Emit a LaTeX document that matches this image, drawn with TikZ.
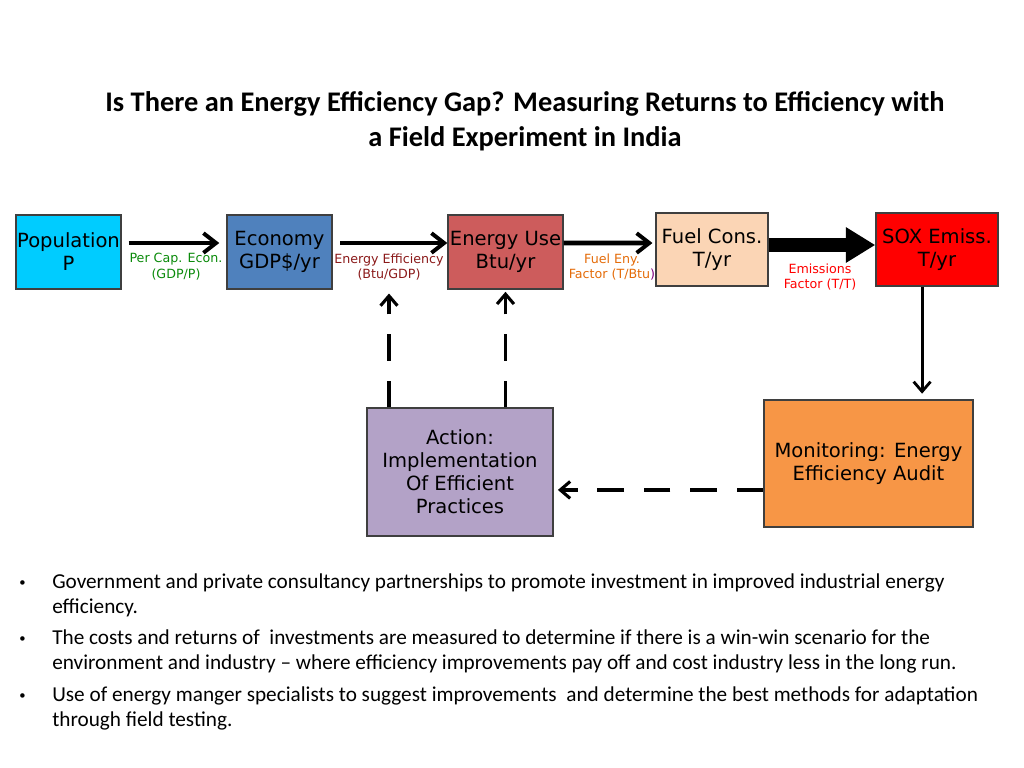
\documentclass[tikz,border=0pt]{standalone}
\usepackage{fontspec}
\setmainfont{Carlito}
\newfontfamily\boxfont{DejaVu Sans}
\usetikzlibrary{arrows.meta, positioning}

\definecolor{popc}{HTML}{00CCFF}
\definecolor{econc}{HTML}{4F81BD}
\definecolor{usec}{HTML}{CD5C5C}
\definecolor{fuelc}{HTML}{FBD5B5}
\definecolor{soxc}{HTML}{FF0000}
\definecolor{actc}{HTML}{B3A2C7}
\definecolor{monc}{HTML}{F79646}
\definecolor{edgec}{HTML}{3F3F3F}
\definecolor{greenl}{HTML}{0A8A0A}
\definecolor{redl}{HTML}{8B1A1A}
\definecolor{orangel}{HTML}{E46C0A}

\begin{document}
\begin{tikzpicture}[x=0.025cm, y=-0.025cm,
	box/.style={draw=edgec, line width=1pt, align=center, inner sep=0pt,
		font=\boxfont\fontsize{13.9}{16.3}\selectfont},
	lbl/.style={align=center, inner sep=0pt,
		font=\boxfont\fontsize{9}{11.3}\selectfont},
	arr/.style={line width=3.5pt, -{Straight Barb[length=9pt, width=14pt, line width=2.8pt]}},
	dsh/.style={line width=2.6pt, dash pattern=on 19pt off 14pt,
		-{Straight Barb[length=7pt, width=12pt, line width=2.2pt]}},
	bul/.style={anchor=base west, align=left, inner sep=0pt,
		font=\fontsize{15.1}{17.7}\selectfont}]
	\useasboundingbox (0,0) rectangle (1024,768);

	% title
	\node[align=center, font=\bfseries\fontsize{20.2}{24.8}\selectfont] (title) at (525,121)
		{Is There an Energy Efficiency Gap? Measuring Returns to Efficiency with\\a Field Experiment in India};

	% chain of boxes
	\node[box, fill=popc, minimum width=105*0.025cm, minimum height=74*0.025cm] (pop) at (68.5,252) {Population\\P};
	\node[box, fill=econc, minimum width=105*0.025cm, minimum height=74*0.025cm] (econ) at (279.5,252) {Economy\\GDP\$/yr};
	\node[box, fill=usec, minimum width=115*0.025cm, minimum height=74*0.025cm] (use) at (505.5,252) {Energy Use\\Btu/yr};
	\node[box, fill=fuelc, minimum width=112*0.025cm, minimum height=73*0.025cm] (fuel) at (712,249.5) {Fuel Cons.\\T/yr};
	\node[box, fill=soxc, minimum width=122*0.025cm, minimum height=73*0.025cm] (sox) at (937,249.5) {SOX Emiss.\\T/yr};
	\node[box, fill=actc, minimum width=186*0.025cm, minimum height=128*0.025cm] (act) at (460,472)
		{Action:\\Implementation\\Of Efficient\\ Practices};
	\node[box, fill=monc, minimum width=209*0.025cm, minimum height=127*0.025cm] (mon) at (868.5,463.5)
		{Monitoring: Energy\\Efficiency Audit};

	% labels under the arrows
	\node[lbl, text=greenl] (pce) at (176,267) {Per Cap. Econ.\\(GDP/P)};
	\node[lbl, text=redl] (ee) at (389,267) {Energy Efficiency\\(Btu/GDP)};
	\node[lbl, text=orangel] (fef) at (612,267) {Fuel Eny.\\Factor (T/Btu\textcolor{violet}{)}};
	\node[lbl, text=soxc] (emf) at (820,277) {Emissions\\Factor (T/T)};

	% arrows
	\draw[arr, shorten <=5pt, shorten >=5pt] ([yshift=6.4pt]pop.east) -- ([yshift=6.4pt]econ.west);
	\draw[arr, shorten <=5.5pt] ([yshift=6.4pt]econ.east) -- ([yshift=6.4pt]use.west);
	\draw[arr, shorten >=2pt] ([yshift=6.4pt]use.east) -- ([yshift=4.6pt]fuel.west);
	\draw[line width=10pt, -{Triangle[length=21pt, width=24pt]}] ([yshift=3.2pt]fuel.east) -- ([yshift=3.2pt]sox.west);
	\draw[line width=2.2pt, -{Straight Barb[length=7pt, width=12pt, line width=2pt]}, shorten >=4pt]
		([xshift=-10.6pt]sox.south) -- ([xshift=-10.6pt]sox.south |- mon.north);
	\draw[dsh, shorten >=3pt] ([yshift=-18.8pt]mon.west) -- ([yshift=-18.8pt]mon.west -| act.east);
	\draw[dsh, shorten >=9pt] (act.north -| ee.south) -- (ee.south);
	\draw[dsh, shorten >=1.5pt] (act.north -| use.south) -- (use.south);

	% bullets
	\node[bul] (b1) at (52,613) {\llap{\raisebox{1.2pt}{\small\textbullet}\hspace{19pt}}Government and private consultancy partnerships to promote investment in improved industrial energy\\efficiency.};
	\node[bul] (b2) at (52,669) {\llap{\raisebox{1.2pt}{\small\textbullet}\hspace{19pt}}The costs and returns of \ investments are measured to determine if there is a win-win scenario for the\\environment and industry -- where efficiency improvements pay off and cost industry less in the long run.};
	\node[bul] (b3) at (52,726) {\llap{\raisebox{1.2pt}{\small\textbullet}\hspace{19pt}}Use of energy manger specialists to suggest improvements \ and determine the best methods for adaptation\\through field testing.};
\end{tikzpicture}
\end{document}
